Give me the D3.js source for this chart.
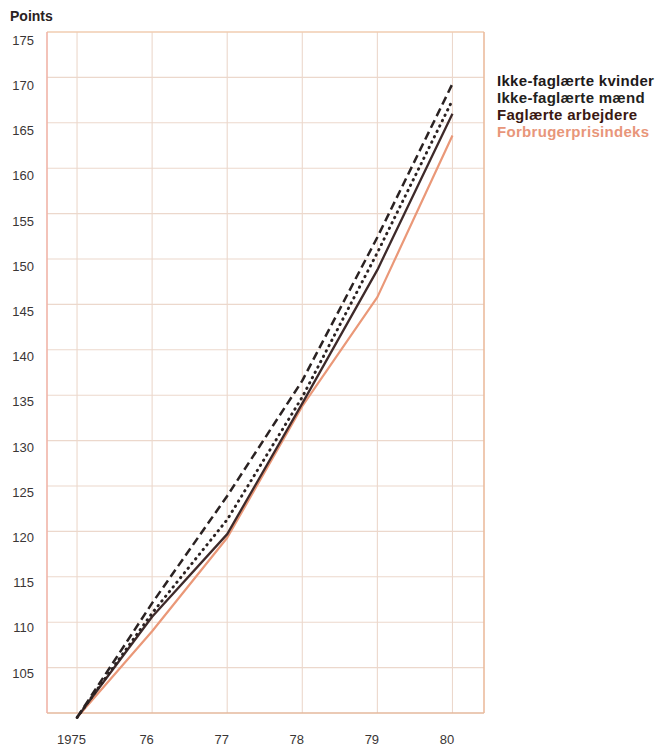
<!DOCTYPE html>
<html>
<head>
<meta charset="utf-8">
<script src="https://cdn.jsdelivr.net/npm/d3@7"></script>
<style>
  html, body { margin: 0; padding: 0; background: #ffffff; }
  svg { display: block; }
</style>
</head>
<body>
<div id="chart"></div>
<script>
// ---- data ----
const years = [1975, 1976, 1977, 1978, 1979, 1980];
const yTicks = [105, 110, 115, 120, 125, 130, 135, 140, 145, 150, 155, 160, 165, 170, 175];
const xTickLabels = ["1975", "76", "77", "78", "79", "80"];
const seriesNames = ["Ikke-faglærte kvinder", "Ikke-faglærte mænd", "Faglærte arbejdere", "Forbrugerprisindeks"];
const kvinder   = [99.5, 112.1, 123.9, 136.6, 152.4, 169.3];
const maend     = [99.5, 111.0, 121.3, 134.8, 150.7, 167.5];
const faglaerte = [99.5, 110.6, 119.7, 134.1, 148.8, 166.0];
const forbruger = [99.5, 109.0, 119.3, 133.8, 145.8, 163.6];

// ---- setup ----
const W = 657, H = 747;
const svg = d3.select("#chart").append("svg").attr("width", W).attr("height", H);

const x = d3.scaleLinear().domain([1974.6, 1980.42]).range([47, 484]);
const y = d3.scaleLinear().domain([100, 175]).range([713, 32]);
const yLabel = d3.scaleLinear().domain([105, 175]).range([673, 40]);

const gridColor = "#ecd8cc";

// gridlines
svg.append("g").selectAll("line.h")
  .data(yTicks.filter(v => v < 175))
  .join("line")
  .attr("x1", x.range()[0]).attr("x2", x.range()[1])
  .attr("y1", d => y(d)).attr("y2", d => y(d))
  .attr("stroke", gridColor).attr("stroke-width", 1.1);

svg.append("g").selectAll("line.v")
  .data(years)
  .join("line")
  .attr("x1", d => x(d)).attr("x2", d => x(d))
  .attr("y1", y(175)).attr("y2", y(100))
  .attr("stroke", gridColor).attr("stroke-width", 1.1);

// frame
svg.append("line").attr("x1", x.range()[0]).attr("x2", x.range()[1]).attr("y1", y(175)).attr("y2", y(175))
  .attr("stroke", "#f0ccb0").attr("stroke-width", 1.4);
svg.append("line").attr("x1", x.range()[0]).attr("x2", x.range()[1]).attr("y1", y(100)).attr("y2", y(100))
  .attr("stroke", "#e4b89c").attr("stroke-width", 1.6);
svg.append("line").attr("x1", x.range()[0]).attr("x2", x.range()[0]).attr("y1", y(175)).attr("y2", y(100))
  .attr("stroke", "#f0b4a8").attr("stroke-width", 1.6);
svg.append("line").attr("x1", x.range()[1]).attr("x2", x.range()[1]).attr("y1", y(175)).attr("y2", y(100))
  .attr("stroke", "#ebbc9e").attr("stroke-width", 1.6);

// axes (labels only)
const yAxis = d3.axisLeft(yLabel).tickValues(yTicks).tickSize(0).tickPadding(0).tickFormat(d3.format("d"));
const gy = svg.append("g").attr("transform", "translate(34,0)").call(yAxis);
gy.select(".domain").remove();
gy.selectAll("text").attr("font-family", "Liberation Sans, Arial, sans-serif")
  .attr("font-size", 13).attr("fill", "#3a3636");

const xAxis = d3.axisBottom(x).tickValues(years).tickSize(0).tickPadding(0)
  .tickFormat((d, i) => xTickLabels[i]);
const gx = svg.append("g").attr("transform", "translate(-6,735)").call(xAxis);
gx.select(".domain").remove();
gx.selectAll("text").attr("font-family", "Liberation Sans, Arial, sans-serif")
  .attr("font-size", 13).attr("fill", "#3a3636");

// title
svg.append("text").attr("x", 10).attr("y", 21)
  .attr("font-family", "Liberation Sans, Arial, sans-serif")
  .attr("font-size", 14).attr("font-weight", "bold").attr("fill", "#2a2222")
  .text("Points");

// lines
const line = d3.line().x((d, i) => x(years[i])).y(d => y(d));

const styles = [
  { data: forbruger, color: "#ea9878", width: 2.2, dash: null, cap: "butt" },
  { data: faglaerte, color: "#3e2a2a", width: 2.3, dash: null, cap: "butt" },
  { data: maend,     color: "#2b2222", width: 2.9, dash: "0.5,5.5", cap: "round" },
  { data: kvinder,   color: "#2a2222", width: 2.5, dash: "8.5,4.5", cap: "butt" }
];
styles.forEach(s => {
  svg.append("path").datum(s.data)
    .attr("d", line)
    .attr("fill", "none")
    .attr("stroke", s.color)
    .attr("stroke-width", s.width)
    .attr("stroke-linecap", s.cap)
    .attr("stroke-linejoin", "round")
    .attr("stroke-dasharray", s.dash);
});

// legend
const legendColors = ["#1e1a1a", "#1f2320", "#3a1812", "#e8967a"];
const legendY = [86, 103, 120, 137];
svg.append("g").selectAll("text")
  .data(seriesNames)
  .join("text")
  .attr("x", 497)
  .attr("y", (d, i) => legendY[i])
  .attr("font-family", "Liberation Sans, Arial, sans-serif")
  .attr("font-size", 15).attr("font-weight", "bold")
  .attr("letter-spacing", 0.3)
  .attr("fill", (d, i) => legendColors[i])
  .text(d => d);
</script>
</body>
</html>
